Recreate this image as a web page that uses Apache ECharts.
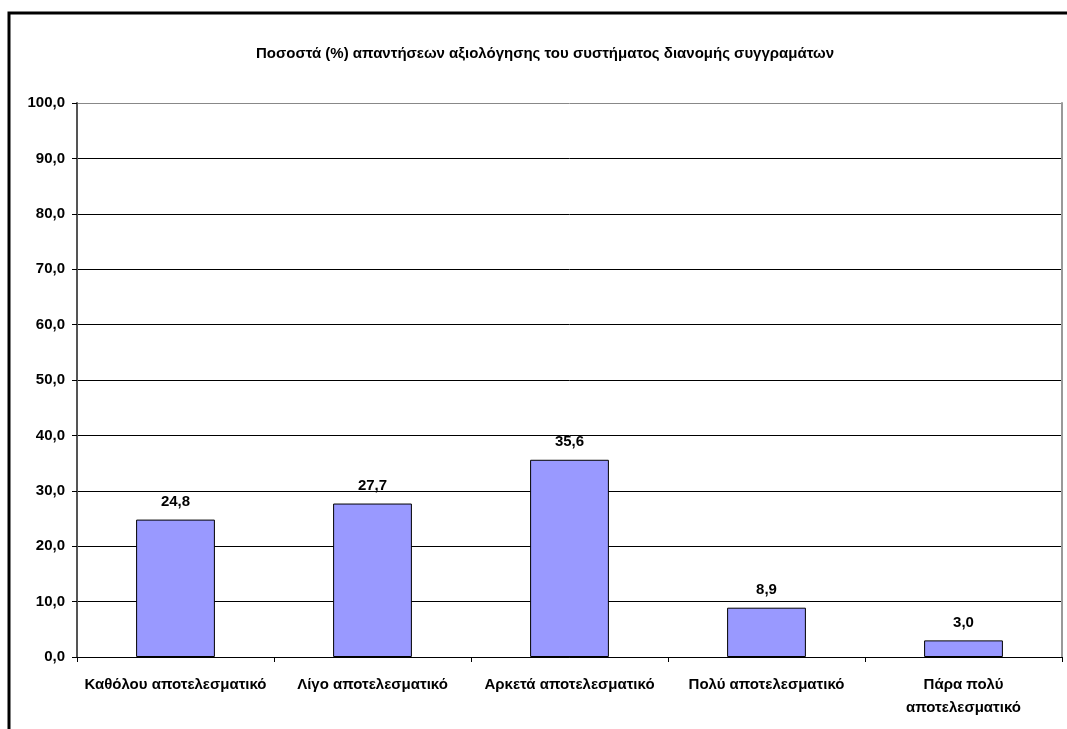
<!DOCTYPE html>
<html>
<head>
<meta charset="utf-8">
<script src="https://cdn.jsdelivr.net/npm/echarts@6/dist/echarts.min.js"></script>
<style>
html,body{margin:0;padding:0;background:#fff;}
#c{width:1067px;height:729px;}
</style>
</head>
<body>
<div id="c"></div>
<script>
const titleText = 'Ποσοστά (%) απαντήσεων αξιολόγησης του συστήματος διανομής συγγραμάτων';
const categories = ['Καθόλου αποτελεσματικό', 'Λίγο αποτελεσματικό', 'Αρκετά αποτελεσματικό', 'Πολύ αποτελεσματικό', 'Πάρα πολύ\nαποτελεσματικό'];
const values = [24.8, 27.7, 35.6, 8.9, 3.0];
const yMin = 0, yMax = 100, yStep = 10;

const fmt = v => Number(v).toFixed(1).replace('.', ',');
const font = '"Liberation Sans", Arial, sans-serif';
const fs = 15;

const gridColors = [];
for (let v = yMin; v <= yMax; v += yStep) gridColors.push(v === yMax ? '#888' : '#000');

const chart = echarts.init(document.getElementById('c'), null, {renderer: 'canvas'});
chart.setOption({
  animation: false,
  backgroundColor: '#ffffff',
  title: {
    text: titleText,
    left: 540, top: 41, textAlign: 'center',
    textStyle: {fontFamily: font, fontSize: fs, fontWeight: 'bold', color: '#000'}
  },
  graphic: [{
    type: 'rect', silent: true,
    shape: {x: 9, y: 13, width: 1200, height: 900},
    style: {fill: 'none', stroke: '#000', lineWidth: 3}
  }],
  grid: {left: 77, right: 5, top: 103, bottom: 72, containLabel: false},
  xAxis: {
    type: 'category',
    data: categories,
    axisLine: {show: true, lineStyle: {color: '#000', width: 1}},
    axisTick: {show: true, alignWithLabel: false, length: 5, lineStyle: {color: '#000'}},
    axisLabel: {
      interval: 0, margin: 16, lineHeight: 23,
      fontFamily: font, fontSize: fs, fontWeight: 'bold', color: '#000'
    },
    splitLine: {show: false}
  },
  yAxis: [{
    type: 'value', min: yMin, max: yMax, interval: yStep,
    axisLine: {show: true, lineStyle: {color: '#555', width: 2}},
    axisTick: {show: true, length: 5, lineStyle: {color: '#000'}},
    axisLabel: {
      formatter: fmt, margin: 12,
      fontFamily: font, fontSize: fs, fontWeight: 'bold', color: '#000'
    },
    splitLine: {show: true, lineStyle: {color: gridColors, width: 1}}
  }, {
    type: 'value', min: yMin, max: yMax, interval: yStep, position: 'right',
    axisLine: {show: true, lineStyle: {color: '#999', width: 2}},
    axisTick: {show: false}, axisLabel: {show: false}, splitLine: {show: false}
  }],
  series: [{
    type: 'bar',
    data: values,
    barWidth: '40%',
    itemStyle: {color: '#9999FF', borderColor: '#000', borderWidth: 1},
    label: {
      show: true, position: 'top', distance: 10, formatter: p => fmt(p.value),
      fontFamily: font, fontSize: fs, fontWeight: 'bold', color: '#000'
    }
  }]
}, true);
</script>
</body>
</html>
